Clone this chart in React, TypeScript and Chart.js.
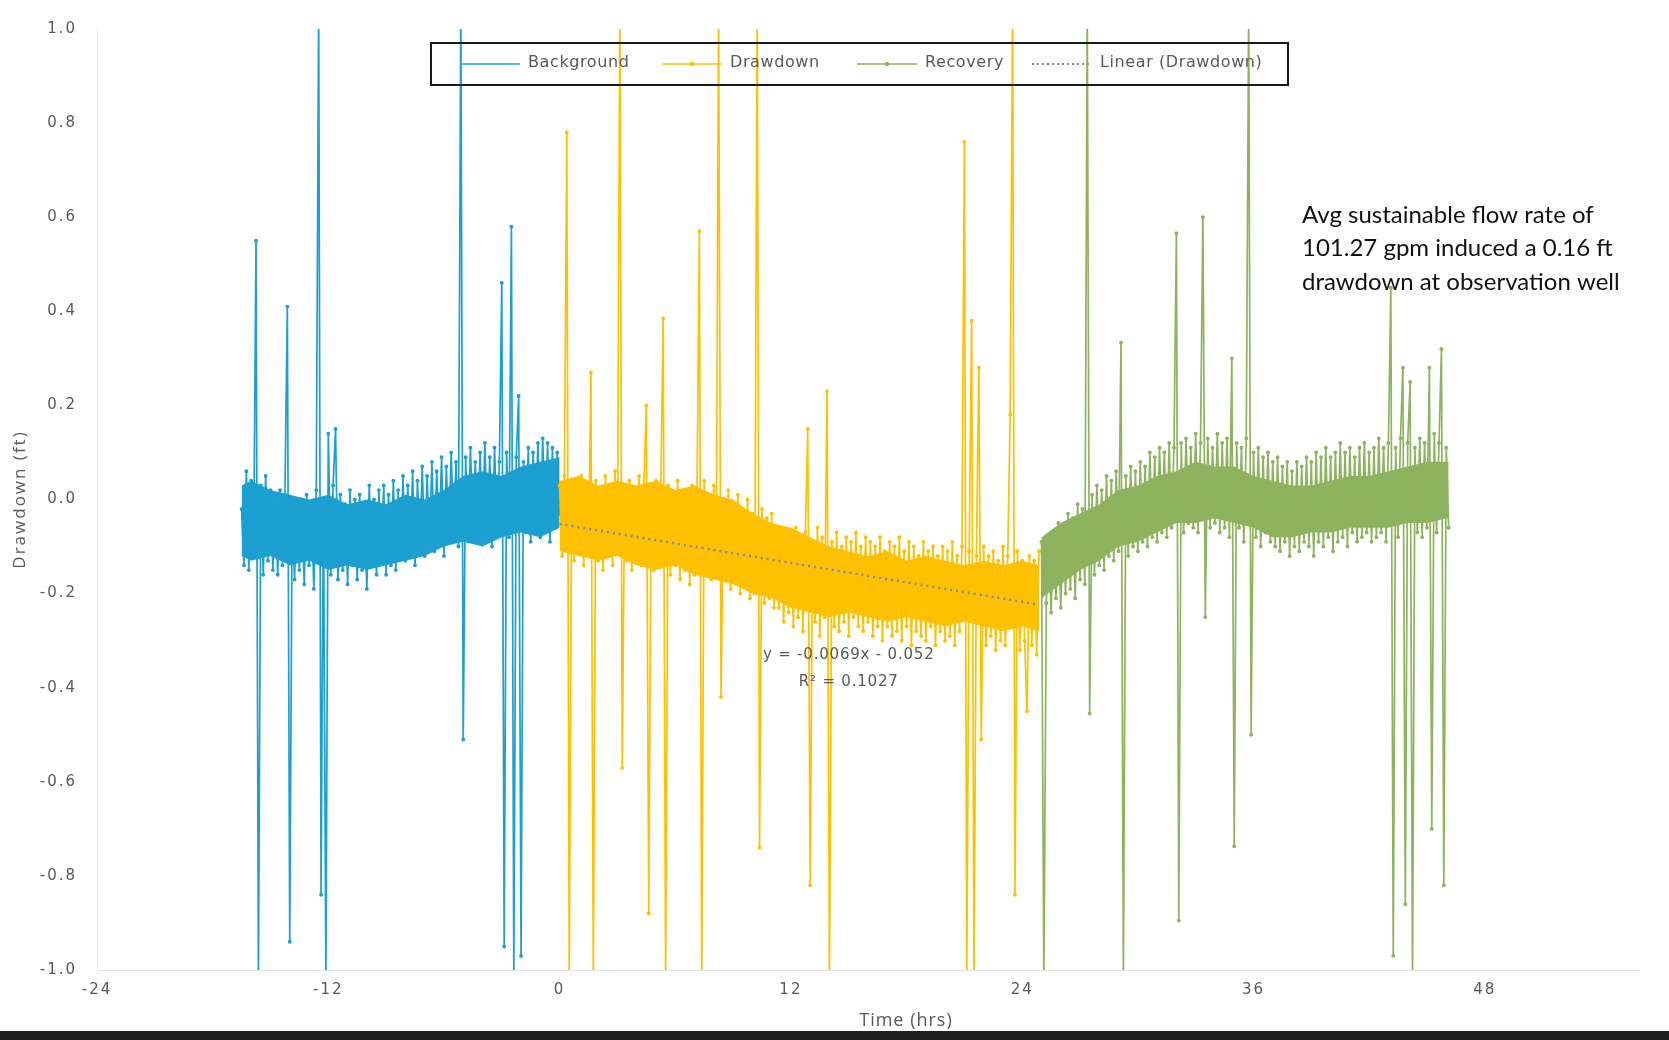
import React, { useEffect, useRef } from "react";
import { Chart, registerables } from "chart.js";

Chart.register(...registerables);

// ---- data -------------------------------------------------------------
// Logger readings every SAMPLE_STEP hours; each series starts at its own time.
const SAMPLE_STEP = 0.125;
const BACKGROUND_START = -16.5;
const DRAWDOWN_START = 0;
const RECOVERY_START = 25.0;

const BACKGROUND_VALUES = [
  -0.02, -0.14, 0.06, -0.15, 0.04, -0.12, 0.55, -1.02, 0.03, -0.16,
  0.05, -0.13, 0.02, -0.15, -0.01, -0.16, 0.02, -0.14, 0.01, 0.41,
  -0.94, -0.02, -0.17, 0.0, -0.15, -0.02, -0.18, 0.01, -0.14, -0.01,
  -0.19, 0.02, 1.05, -0.84, 0.0, -1.02, 0.14, -0.16, 0.03, 0.15,
  -0.17, 0.01, -0.15, -0.01, -0.18, 0.02, -0.14, 0.0, -0.17, 0.01,
  -0.15, -0.02, -0.19, 0.03, -0.14, 0.0, -0.16, 0.02, -0.13, 0.03,
  -0.16, 0.01, -0.14, 0.04, -0.15, 0.02, -0.12, 0.05, -0.13, 0.03,
  -0.11, 0.06, -0.14, 0.04, -0.1, 0.07, -0.12, 0.05, -0.09, 0.08,
  -0.11, 0.06, -0.08, 0.09, -0.12, 0.07, -0.09, 0.1, -0.07, 0.08,
  -0.1, 1.05, -0.51, 0.09, -0.08, 0.11, -0.06, 0.08, -0.09, 0.1,
  -0.07, 0.12, -0.08, 0.09, -0.1, 0.11, -0.06, 0.08, 0.46, -0.95,
  0.1, -0.08, 0.58, -1.02, 0.09, 0.22, -0.97, 0.08, -0.07, 0.11,
  -0.09, 0.1, -0.06, 0.12, -0.08, 0.13, -0.07, 0.12, -0.09, 0.11,
  -0.06, 0.1, -0.03,
];

const DRAWDOWN_VALUES = [
  0.03, -0.12, 0.05, 0.78, -1.02, 0.04, -0.13, 0.02, -0.11, 0.05,
  -0.14, 0.03, -0.12, 0.27, -1.02, 0.04, -0.13, 0.01, -0.15, 0.05,
  -0.12, 0.02, -0.14, 0.06, -0.11, 1.05, -0.57, 0.03, -0.13, 0.04,
  -0.15, 0.02, -0.12, 0.05, -0.14, 0.03, 0.2, -0.88, 0.01, -0.15,
  0.04, -0.13, 0.02, 0.385, -1.02, 0.03, -0.16, 0.01, -0.14, 0.04,
  -0.17, 0.02, -0.15, 0.0, -0.18, 0.03, -0.16, -0.01, 0.57, -1.02,
  0.04, -0.15, 0.01, -0.17, 0.03, -0.14, 1.05, -0.42, 0.0, -0.17,
  0.02, -0.19, -0.01, -0.16, 0.01, -0.2, -0.02, -0.18, 0.0, -0.21,
  -0.03, -0.2, 1.05, -0.74, -0.02, -0.22, -0.04, -0.21, -0.03, -0.23,
  -0.08, -0.23, -0.06, -0.26, -0.07, -0.24, -0.09, -0.27, -0.06, -0.25,
  -0.08, -0.28, -0.07, 0.15, -0.82, -0.09, -0.26, -0.06, -0.29, -0.08,
  -0.25, 0.23, -1.02, -0.09, -0.27, -0.07, -0.28, -0.1, -0.26, -0.08,
  -0.29, -0.09, -0.25, -0.07, -0.27, -0.1, -0.28, -0.08, -0.26, -0.09,
  -0.29, -0.1, -0.27, -0.08, -0.3, -0.11, -0.27, -0.09, -0.29, -0.1,
  -0.28, -0.08, -0.3, -0.11, -0.27, -0.09, -0.31, -0.1, -0.28, -0.12,
  -0.29, -0.09, -0.3, -0.11, -0.27, -0.1, -0.31, -0.12, -0.28, -0.1,
  -0.3, -0.11, -0.29, -0.09, -0.31, -0.12, -0.28, -0.1, 0.76, -1.02,
  -0.11, 0.38, -1.02, -0.12, 0.28, -0.51, -0.1, -0.31, -0.12, -0.29,
  -0.11, -0.32, -0.13, -0.3, -0.1, -0.31, -0.12, 0.18, 1.05, -0.84,
  -0.11, -0.32, -0.13, -0.3, -0.45, -0.12, -0.31, -0.13, -0.33, -0.11,
];

const RECOVERY_VALUES = [
  -0.09, -1.02, -0.22, -0.08, -0.24, -0.07, -0.21, -0.05, -0.23, -0.06,
  -0.2, -0.03, -0.19, -0.04, -0.21, -0.01, -0.17, -0.02, -0.18, 1.05,
  -0.455, 0.01, -0.16, 0.03, -0.14, 0.02, -0.15, 0.05, -0.12, 0.04,
  -0.13, 0.06, -0.11, 0.333, -1.02, 0.05, -0.12, 0.07, -0.1, 0.06,
  -0.11, 0.08, -0.09, 0.07, -0.1, 0.1, -0.08, 0.09, -0.09, 0.11,
  -0.07, 0.1, -0.08, 0.12, -0.06, 0.11, 0.566, -0.895, 0.12, -0.07,
  0.13, -0.05, 0.11, -0.06, 0.14, -0.07, 0.12, 0.6, -0.25, 0.13,
  -0.06, 0.11, -0.05, 0.14, -0.07, 0.12, -0.06, 0.13, -0.08, 0.3,
  -0.737, 0.12, -0.06, 0.11, -0.09, 0.13, 1.05, -0.5, 0.1, -0.08,
  0.11, -0.1, 0.09, -0.07, 0.1, -0.09, 0.08, -0.1, 0.09, -0.11,
  0.07, -0.09, 0.08, -0.12, 0.06, -0.1, 0.08, -0.11, 0.07, -0.09,
  0.09, -0.1, 0.08, -0.12, 0.1, -0.09, 0.09, -0.1, 0.11, -0.08,
  0.09, -0.11, 0.1, -0.09, 0.12, -0.08, 0.1, -0.1, 0.11, -0.07,
  0.09, -0.09, 0.11, -0.08, 0.12, -0.07, 0.1, -0.09, 0.11, -0.08,
  0.13, -0.07, 0.11, -0.09, 0.12, 0.45, -0.97, 0.11, -0.08, 0.13,
  0.28, -0.86, 0.12, 0.25, -1.02, 0.11, -0.07, 0.13, -0.08, 0.12,
  -0.06, 0.28, -0.7, 0.14, -0.07, 0.12, 0.32, -0.82, 0.11, -0.06,
];

// Dense core of each noisy record (upper / lower edge of the solid band)
const BACKGROUND_CORE_TIMES = [
  -16.5, -16, -15, -14, -13, -12, -11, -10, -9, -8, -7, -6, -5, -4, -3, -2, -1, 0,
];
const BACKGROUND_CORE_UPPER = [
  0.03, 0.04, 0.02, 0.01, 0.0, 0.01, -0.01, 0.0, -0.01, 0.01, 0.0, 0.02, 0.05, 0.06, 0.05, 0.07, 0.08, 0.09,
];
const BACKGROUND_CORE_LOWER = [
  -0.12, -0.13, -0.12, -0.14, -0.13, -0.15, -0.14, -0.15, -0.14, -0.13, -0.12, -0.1, -0.09, -0.1, -0.08, -0.07, -0.08, -0.06,
];

const DRAWDOWN_CORE_TIMES = [
  0, 1, 2, 3, 4, 5, 6, 7, 8, 9, 10, 11, 12, 13, 14, 15, 16, 17, 18, 19, 20, 21, 22, 23, 24, 24.875,
];
const DRAWDOWN_CORE_UPPER = [
  0.04, 0.05, 0.03, 0.04, 0.03, 0.04, 0.02, 0.03, 0.01, 0.0, -0.03, -0.05, -0.06,
  -0.08, -0.1, -0.11, -0.12, -0.11, -0.13, -0.12, -0.13, -0.14, -0.13, -0.14, -0.13, -0.14,
];
const DRAWDOWN_CORE_LOWER = [
  -0.11, -0.12, -0.13, -0.12, -0.14, -0.15, -0.14, -0.16, -0.17, -0.18, -0.2, -0.21, -0.23,
  -0.24, -0.25, -0.24, -0.25, -0.26, -0.25, -0.26, -0.27, -0.26, -0.27, -0.28, -0.27, -0.28,
];

const RECOVERY_CORE_TIMES = [
  25, 26, 27, 28, 29, 30, 31, 32, 33, 34, 35, 36, 37, 38, 39, 40, 41, 42, 43, 44, 45, 46, 46.125,
];
const RECOVERY_CORE_UPPER = [
  -0.08, -0.05, -0.03, -0.01, 0.02, 0.03, 0.05, 0.06, 0.08, 0.07, 0.07, 0.05,
  0.04, 0.03, 0.03, 0.04, 0.05, 0.05, 0.06, 0.07, 0.08, 0.08, 0.08,
];
const RECOVERY_CORE_LOWER = [
  -0.21, -0.18, -0.15, -0.13, -0.1, -0.09, -0.07, -0.05, -0.05, -0.04, -0.05, -0.06,
  -0.08, -0.08, -0.07, -0.07, -0.06, -0.06, -0.06, -0.05, -0.05, -0.04, -0.04,
];

// Linear trendline fitted to the drawdown series (as printed on the chart)
const TREND_SLOPE = -0.0069;
const TREND_INTERCEPT = -0.052;
const TREND_LABEL_LINES = ["y = -0.0069x - 0.052", "R\u00B2 = 0.1027"];

const SERIES_LABELS = ["Background", "Drawdown", "Recovery", "Linear (Drawdown)"];
const X_TICKS = [-24, -12, 0, 12, 24, 36, 48];
const Y_TICKS = [-1.0, -0.8, -0.6, -0.4, -0.2, 0.0, 0.2, 0.4, 0.6, 0.8, 1.0];
const X_TITLE = "Time (hrs)";
const Y_TITLE = "Drawdown (ft)";
const NOTE_LINES = [
  "Avg sustainable flow rate of",
  "101.27 gpm induced a 0.16 ft",
  "drawdown at observation well",
];

// ---- styling ----------------------------------------------------------
const COLORS = {
  background: "#1C9FD1",
  drawdown: "#FFC000",
  recovery: "#8DB35E",
  trend: "#7D8DAA",
  axisText: "#595959",
};

const toPoints = (start: number, values: number[]) =>
  values.map((v, i) => ({ x: start + i * SAMPLE_STEP, y: v }));

const pairPoints = (times: number[], values: number[]) =>
  times.map((t, i) => ({ x: t, y: values[i] }));

const overlayPlugin = {
  id: "overlay",
  beforeDraw(chart: any) {
    (chart.ctx as any).letterSpacing = "2px";
  },
  beforeDatasetsDraw(chart: any) {
    (chart.ctx as any).letterSpacing = "0px";
  },
  afterDraw(chart: any) {
    const ctx: CanvasRenderingContext2D = chart.ctx;
    ctx.save();

    // Legend box (inside plot area, no fill)
    const box = { left: 431, top: 43, right: 1288, bottom: 85 };
    ctx.strokeStyle = "#1a1a1a";
    ctx.lineWidth = 2;
    ctx.strokeRect(box.left, box.top, box.right - box.left, box.bottom - box.top);

    const cy = (box.top + box.bottom) / 2;
    const itemX = [460, 662, 857, 1032];
    const lineLen = 60;
    const styles = [
      { color: COLORS.background, dash: [] as number[], marker: false },
      { color: COLORS.drawdown, dash: [] as number[], marker: true },
      { color: COLORS.recovery, dash: [] as number[], marker: true },
      { color: COLORS.trend, dash: [2, 3], marker: false },
    ];
    ctx.font = "16px 'DejaVu Sans'";
    (ctx as any).letterSpacing = "0.6px";
    ctx.textBaseline = "middle";
    ctx.textAlign = "left";
    SERIES_LABELS.forEach((label, i) => {
      const s = styles[i];
      ctx.strokeStyle = s.color;
      ctx.lineWidth = i === 3 ? 2 : 1.5;
      ctx.setLineDash(s.dash);
      ctx.beginPath();
      ctx.moveTo(itemX[i], cy);
      ctx.lineTo(itemX[i] + lineLen, cy);
      ctx.stroke();
      ctx.setLineDash([]);
      if (s.marker) {
        ctx.fillStyle = s.color;
        ctx.beginPath();
        ctx.arc(itemX[i] + lineLen / 2, cy, 2.2, 0, Math.PI * 2);
        ctx.fill();
      }
      ctx.fillStyle = COLORS.axisText;
      ctx.fillText(label, itemX[i] + lineLen + 8, cy - 1);
    });

    // X axis title (placed as in the original, right of centre)
    ctx.font = "18px 'Open Sans'";
    (ctx as any).letterSpacing = "1px";
    ctx.textAlign = "center";
    ctx.fillStyle = COLORS.axisText;
    ctx.fillText(X_TITLE, 906, 1021);

    // Trendline equation
    const xs = chart.scales.x;
    const ys = chart.scales.y;
    ctx.font = "15px 'DejaVu Sans'";
    (ctx as any).letterSpacing = "0.8px";
    ctx.textAlign = "center";
    ctx.fillStyle = COLORS.axisText;
    const ex = xs.getPixelForValue(15.0);
    ctx.fillText(TREND_LABEL_LINES[0], ex, ys.getPixelForValue(-0.331));
    ctx.fillText(TREND_LABEL_LINES[1], ex, ys.getPixelForValue(-0.388));

    // Annotation note
    ctx.font = "24px Lato";
    (ctx as any).letterSpacing = "0px";
    ctx.textAlign = "left";
    ctx.fillStyle = "#111";
    NOTE_LINES.forEach((line, i) => {
      ctx.fillText(line, 1302, 215 + i * 33.5);
    });

    ctx.restore();
  },
};

export default function App() {
  const ref = useRef<HTMLCanvasElement>(null);

  useEffect(() => {
    const canvas = ref.current;
    if (!canvas) return;
    const ddEnd = DRAWDOWN_START + (DRAWDOWN_VALUES.length - 1) * SAMPLE_STEP;
    const trendData = [DRAWDOWN_START, ddEnd].map((x) => ({
      x,
      y: TREND_SLOPE * x + TREND_INTERCEPT,
    }));

    const seriesBase = {
      borderWidth: 1.7,
      pointRadius: 1.1,
      pointHoverRadius: 1.1,
      tension: 0,
      fill: false,
    };
    const coreBase = {
      borderWidth: 0,
      pointRadius: 0,
      tension: 0,
      order: 10,
    };

    const chart = new Chart(canvas, {
      type: "line",
      data: {
        datasets: [
          {
            ...seriesBase,
            label: SERIES_LABELS[0],
            data: toPoints(BACKGROUND_START, BACKGROUND_VALUES),
            borderColor: COLORS.background,
            backgroundColor: COLORS.background,
            order: 3,
          },
          {
            ...seriesBase,
            label: SERIES_LABELS[1],
            data: toPoints(DRAWDOWN_START, DRAWDOWN_VALUES),
            borderColor: COLORS.drawdown,
            backgroundColor: COLORS.drawdown,
            order: 2,
          },
          {
            ...seriesBase,
            label: SERIES_LABELS[2],
            data: toPoints(RECOVERY_START, RECOVERY_VALUES),
            borderColor: COLORS.recovery,
            backgroundColor: COLORS.recovery,
            order: 1,
          },
          {
            label: SERIES_LABELS[3],
            data: trendData,
            borderColor: COLORS.trend,
            borderWidth: 2.5,
            borderDash: [2, 4],
            pointRadius: 0,
            fill: false,
            order: 0,
          },
          // solid cores (upper edge filled down to lower edge)
          {
            ...coreBase,
            label: "bg-core-upper",
            data: pairPoints(BACKGROUND_CORE_TIMES, BACKGROUND_CORE_UPPER),
            borderColor: COLORS.background,
            backgroundColor: COLORS.background,
            fill: "+1",
          },
          {
            ...coreBase,
            label: "bg-core-lower",
            data: pairPoints(BACKGROUND_CORE_TIMES, BACKGROUND_CORE_LOWER),
            borderColor: COLORS.background,
            backgroundColor: COLORS.background,
            fill: false,
          },
          {
            ...coreBase,
            label: "dd-core-upper",
            data: pairPoints(DRAWDOWN_CORE_TIMES, DRAWDOWN_CORE_UPPER),
            borderColor: COLORS.drawdown,
            backgroundColor: COLORS.drawdown,
            fill: "+1",
          },
          {
            ...coreBase,
            label: "dd-core-lower",
            data: pairPoints(DRAWDOWN_CORE_TIMES, DRAWDOWN_CORE_LOWER),
            borderColor: COLORS.drawdown,
            backgroundColor: COLORS.drawdown,
            fill: false,
          },
          {
            ...coreBase,
            label: "rc-core-upper",
            data: pairPoints(RECOVERY_CORE_TIMES, RECOVERY_CORE_UPPER),
            borderColor: COLORS.recovery,
            backgroundColor: COLORS.recovery,
            fill: "+1",
          },
          {
            ...coreBase,
            label: "rc-core-lower",
            data: pairPoints(RECOVERY_CORE_TIMES, RECOVERY_CORE_LOWER),
            borderColor: COLORS.recovery,
            backgroundColor: COLORS.recovery,
            fill: false,
          },
        ],
      },
      options: {
        responsive: false,
        animation: false,
        events: [],
        layout: { padding: { top: 16, right: 30, bottom: 0, left: 0 } },
        plugins: {
          legend: { display: false },
          tooltip: { enabled: false },
        },
        scales: {
          x: {
            type: "linear",
            min: -24,
            max: 56,
            grid: { display: false, drawTicks: false },
            border: { display: true, color: "#E3E3E3", width: 1 },
            afterBuildTicks: (scale: any) => {
              scale.ticks = X_TICKS.map((v) => ({ value: v }));
            },
            afterFit: (scale: any) => {
              scale.height = 70;
            },
            ticks: {
              padding: 11,
              color: COLORS.axisText,
              font: { family: "'DejaVu Sans'", size: 15 },
              maxRotation: 0,
              callback: (v: any) => String(v),
            },
            title: { display: false, text: X_TITLE },
          },
          y: {
            type: "linear",
            min: -1,
            max: 1,
            grid: { display: false, drawTicks: false },
            border: { display: true, color: "#EBEBEB", width: 1 },
            afterBuildTicks: (scale: any) => {
              scale.ticks = Y_TICKS.map((v) => ({ value: v }));
            },
            afterFit: (scale: any) => {
              scale.width = 97;
            },
            ticks: {
              padding: 20,
              color: COLORS.axisText,
              font: { family: "'DejaVu Sans'", size: 15 },
              callback: (v: any) => {
                const n = Number(v);
                return Math.abs(n) < 1e-9 ? "0.0" : n.toFixed(1);
              },
            },
            title: {
              display: true,
              text: Y_TITLE,
              color: COLORS.axisText,
              font: { family: "'Open Sans'", size: 17 },
              padding: { top: 10, bottom: 0 },
            },
          },
        },
      },
      plugins: [overlayPlugin],
    });

    return () => chart.destroy();
  }, []);

  return (
    <div
      style={{
        position: "absolute",
        left: 0,
        top: 0,
        width: 1669,
        height: 1040,
        background: "#fff",
        overflow: "hidden",
      }}
    >
      <canvas
        ref={ref}
        width={1669}
        height={1040}
        style={{ display: "block", width: 1669, height: 1040 }}
      />
      <div
        style={{
          position: "absolute",
          left: 0,
          right: 0,
          bottom: 0,
          height: 9,
          background: "#1e1e1e",
        }}
      />
    </div>
  );
}
